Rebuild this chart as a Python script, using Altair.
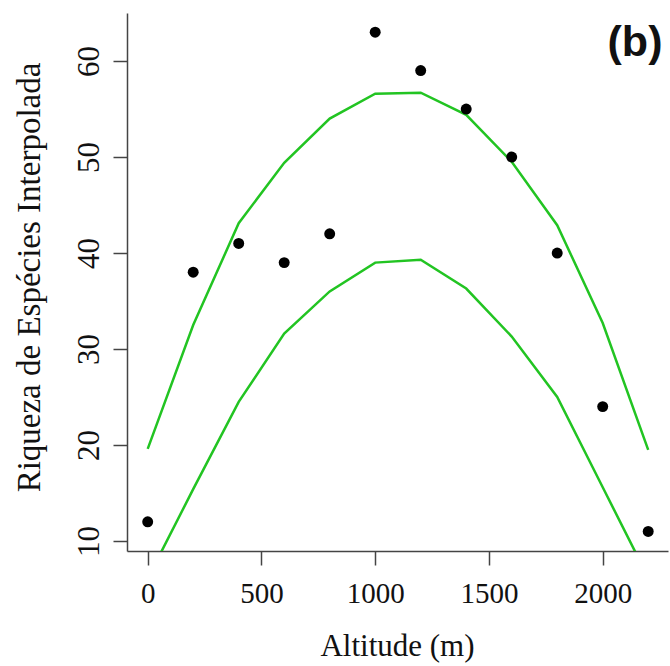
import altair as alt
import pandas as pd

# Observed richness
altitude = [0, 200, 400, 600, 800, 1000, 1200, 1400, 1600, 1800, 2000, 2200]
richness = [12, 38, 41, 39, 42, 63, 59, 55, 50, 40, 24, 11]

# Upper and lower green curves
upper = [19.6, 32.5, 43.1, 49.4, 54.0, 56.6, 56.7, 54.4, 49.5, 42.9, 32.7, 19.5]
lower = [6.1, 15.4, 24.5, 31.6, 36.0, 39.0, 39.3, 36.3, 31.3, 25.0, 15.6, 6.2]

x_ticks = [0, 500, 1000, 1500, 2000]
y_ticks = [10, 20, 30, 40, 50, 60]

pts = pd.DataFrame({"alt": altitude, "rich": richness})
curves = pd.DataFrame({
    "alt": altitude * 2,
    "val": upper + lower,
    "curve": ["upper"] * len(altitude) + ["lower"] * len(altitude),
})

xs = alt.Scale(domain=[-91, 2287], nice=False, zero=False)
ys = alt.Scale(domain=[8.96, 65.0], nice=False, zero=False)

axis_common = dict(
    grid=False,
    domainColor="#444444",
    domainWidth=1.5,
    tickColor="#444444",
    tickWidth=1.5,
    tickSize=14,
    labelFont="Liberation Serif",
    labelColor="#111111",
    titleFont="Liberation Serif",
    titleFontWeight="normal",
    titleColor="#111111",
    format="d",
)

x_axis = alt.Axis(
    values=x_ticks,
    title="Altitude (m)",
    labelFontSize=29,
    labelPadding=14,
    titleFontSize=31,
    titleX=270,
    titleY=104,
    titleAlign="center",
    titleBaseline="alphabetic",
    **axis_common,
)
y_axis = alt.Axis(
    values=y_ticks,
    title="Riqueza de Espécies Interpolada",
    labelFontSize=31,
    labelAngle=270,
    labelAlign="center",
    labelBaseline="alphabetic",
    labelPadding=15,
    titleFontSize=33,
    titleAngle=270,
    titleX=-88,
    titleY=264,
    titleAlign="center",
    titleBaseline="alphabetic",
    **axis_common,
)

lines = alt.Chart(curves).mark_line(color="#22c422", strokeWidth=2.5, clip=True).encode(
    x=alt.X("alt:Q", scale=xs, axis=x_axis),
    y=alt.Y("val:Q", scale=ys, axis=y_axis),
    detail="curve:N",
)

points = alt.Chart(pts).mark_circle(color="black", opacity=1, size=120).encode(
    x=alt.X("alt:Q", scale=xs),
    y=alt.Y("rich:Q", scale=ys),
)

label = alt.Chart(pd.DataFrame({"t": ["(b)"]})).mark_text(
    font="Liberation Sans", fontWeight="bold", fontSize=43,
    align="center", baseline="middle", color="#111111",
).encode(x=alt.value(508), y=alt.value(30), text="t:N")

chart = alt.layer(lines, points, label).properties(
    width=541, height=538,
    autosize=alt.AutoSizeParams(type="none"),
    padding={"left": 127, "top": 13, "right": 2, "bottom": 115},
).configure_view(stroke=None)

chart.save("out.html", embed_options={"renderer": "svg", "actions": False})
